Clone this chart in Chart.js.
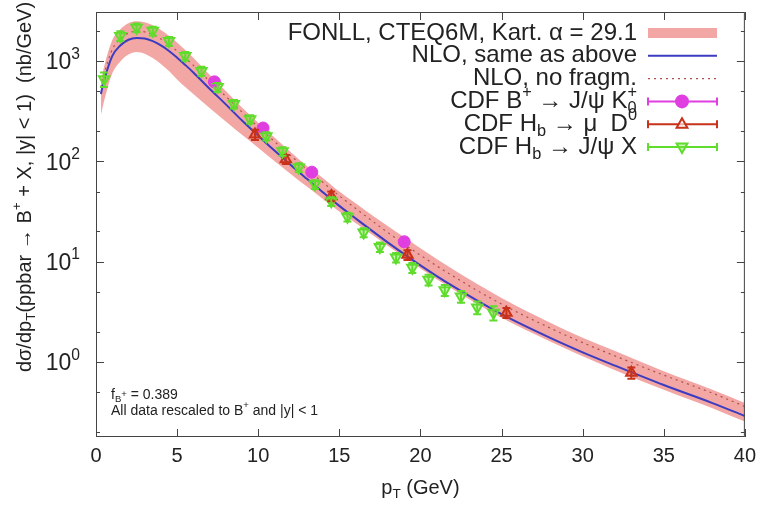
<!DOCTYPE html>
<html>
<head>
<meta charset="utf-8">
<script src="https://cdn.jsdelivr.net/npm/chart.js"></script>
<style>
  body { margin: 0; background: #fff; }
  canvas { display: block; }
</style>
</head>
<body>
<canvas id="chart_bplus" width="763" height="518"></canvas>
<script>
// theory curves, sampled in pT (GeV)
const pT = [0.3, 0.5, 1, 1.5, 2, 2.5, 3, 3.5, 4, 4.5, 5, 5.5, 6, 7, 8, 9, 10, 11, 12, 13, 14, 15, 16, 18, 20, 22, 25, 28, 30, 32, 35, 38, 40];
const fonllUp = [625, 880, 1610, 2070, 2380, 2490, 2440, 2270, 2040, 1790, 1530, 1290, 1080, 730, 503, 344, 243, 173, 124, 90, 68, 50, 38.3, 22.5, 13.6, 8.4, 4.35, 2.47, 1.75, 1.29, 0.81, 0.53, 0.39];
const fonllLo = [290, 400, 750, 990, 1160, 1230, 1180, 1070, 935, 795, 655, 550, 470, 340, 250, 184, 137, 101, 75, 56, 42, 31.7, 24.3, 14.3, 8.55, 5.3, 2.76, 1.6, 1.14, 0.83, 0.53, 0.347, 0.255];
const nlo = [470, 640, 1120, 1430, 1630, 1700, 1680, 1580, 1430, 1260, 1080, 915, 770, 530, 370, 255, 180, 128, 92, 67, 49, 36, 27, 15.5, 9.2, 5.7, 3.0, 1.74, 1.25, 0.92, 0.59, 0.39, 0.29];
const nloNoFrag = [550, 740, 1300, 1660, 1900, 1980, 1950, 1830, 1660, 1460, 1260, 1070, 905, 630, 445, 310, 221, 158, 114, 83.5, 61.5, 45.3, 34, 19.5, 11.6, 7.2, 3.78, 2.18, 1.56, 1.15, 0.74, 0.49, 0.36];

// CDF data
const bJpsiK_pT = [7.3, 10.3, 13.3, 19.0];
const bJpsiK = [620, 215, 78, 15.8];
const bJpsiK_err = [50, 17, 6, 1.5];

const hbMuD_pT = [9.8, 11.7, 14.5, 19.2, 25.3, 33.0];
const hbMuD = [185, 105, 45, 11.7, 3.1, 0.78];
const hbMuD_err = [22, 11, 5, 1.3, 0.35, 0.1];

const hbJpsiX_pT = [0.5, 1.5, 2.5, 3.5, 4.5, 5.5, 6.5, 7.5, 8.5, 9.5, 10.5, 11.5, 12.5, 13.5, 14.5, 15.5, 16.5, 17.5, 18.5, 19.5, 20.5, 21.5, 22.5, 23.5, 24.5];
const hbJpsiX = [660, 1780, 2150, 2000, 1580, 1120, 795, 550, 372, 263, 178, 126, 87, 59, 40, 28, 19.5, 14, 11, 8.7, 6.6, 5.2, 4.5, 3.5, 3.1];
const hbJpsiX_err = [110, 200, 220, 200, 160, 110, 80, 55, 36, 25, 17, 12, 8.5, 6, 4, 2.8, 2, 1.5, 1.2, 1.0, 0.8, 0.65, 0.6, 0.5, 0.5];

// axis ticks
const xTicks = [0, 5, 10, 15, 20, 25, 30, 35, 40];
const yMajor = [1, 10, 100, 1000];
const yExp = ['0', '1', '2', '3'];
const yMinor = [0.2, 0.5, 2, 5, 20, 50, 200, 500, 2000];

const FONT = '"Liberation Sans", Arial, Helvetica, sans-serif';
const INK = '#222';
const BAND = '#f3a7a5';
const BLUE = '#3b3cc0';
const DOTS = '#b0504a';
const MAG = '#e03ee0';
const RED = '#c8321a';
const GREEN = '#5fdc2c';

const pts = (xs, ys) => xs.map((x, i) => ({ x: x, y: ys[i] }));

// text with sub/superscripts: segs = [{t, k}] k: '', 'sup', 'sub', 'sub2' (sub under previous sup)
function richWidth(ctx, segs, size) {
  let w = 0, last = 0;
  segs.forEach(s => {
    const sz = s.k ? size * 0.68 : size;
    ctx.font = sz + 'px ' + FONT;
    const sw = ctx.measureText(s.t).width;
    if (s.k === 'sub2') { w += Math.max(0, sw - last); }
    else { w += sw; }
    last = sw;
  });
  return w;
}
function drawRich(ctx, segs, x, y, size, align) {
  ctx.save();
  ctx.textBaseline = 'middle';
  ctx.textAlign = 'left';
  ctx.fillStyle = INK;
  let w = richWidth(ctx, segs, size);
  let cx = align === 'right' ? x - w : align === 'center' ? x - w / 2 : x;
  let prevX = cx, last = 0;
  segs.forEach(s => {
    const sz = s.k ? size * 0.68 : size;
    ctx.font = sz + 'px ' + FONT;
    const sw = ctx.measureText(s.t).width;
    let dy = 0;
    if (s.k === 'sup') dy = -size * 0.38;
    if (s.k === 'sub' || s.k === 'sub2') dy = size * 0.3;
    if (s.k === 'subsup') dy = -size * 0.05;
    if (s.k === 'sub2') {
      ctx.fillText(s.t, prevX, y + dy);
      cx = prevX + Math.max(sw, last);
    } else {
      ctx.fillText(s.t, cx, y + dy);
      prevX = cx;
      cx += sw;
    }
    last = sw;
  });
  ctx.restore();
}

function marker(ctx, style, x, y, r, color, fill) {
  ctx.save();
  ctx.strokeStyle = color;
  ctx.fillStyle = fill;
  ctx.lineWidth = 2;
  ctx.beginPath();
  if (style === 'circle') {
    ctx.arc(x, y, r, 0, Math.PI * 2);
  } else {
    const s = style === 'up' ? 1 : -1;
    ctx.moveTo(x, y - s * r);
    ctx.lineTo(x + r * 0.9, y + s * r * 0.6);
    ctx.lineTo(x - r * 0.9, y + s * r * 0.6);
    ctx.closePath();
  }
  ctx.fill();
  ctx.stroke();
  ctx.restore();
}

const legendRows = [
  { segs: [{ t: 'FONLL, CTEQ6M, Kart. α = 29.1' }], kind: 'band' },
  { segs: [{ t: 'NLO, same as above' }], kind: 'line' },
  { segs: [{ t: 'NLO, no fragm.' }], kind: 'dots' },
  { segs: [{ t: 'CDF B' }, { t: '+', k: 'sup' }, { t: ' → J/ψ K' }, { t: '+', k: 'sup' }, { t: '0', k: 'sub2' }], kind: 'pt', color: MAG, style: 'circle', fill: MAG },
  { segs: [{ t: 'CDF H' }, { t: 'b', k: 'sub' }, { t: ' → μ  D' }, { t: '0', k: 'sup' }], kind: 'pt', color: RED, style: 'up', fill: 'rgba(255,255,255,0.6)' },
  { segs: [{ t: 'CDF H' }, { t: 'b', k: 'sub' }, { t: ' → J/ψ X' }], kind: 'pt', color: GREEN, style: 'down', fill: 'rgba(120,230,70,0.4)' }
];

const decor = {
  id: 'decor',
  afterDatasetsDraw(chart) {
    const ctx = chart.ctx;
    const ys = chart.scales.y;
    // error bars
    chart.data.datasets.forEach((ds, i) => {
      if (!ds.errs) return;
      const meta = chart.getDatasetMeta(i);
      ctx.save();
      ctx.strokeStyle = ds.borderColor;
      ctx.lineWidth = 2;
      meta.data.forEach((p, j) => {
        const v = ds.data[j].y, e = ds.errs[j];
        const y1 = ys.getPixelForValue(v + e), y2 = ys.getPixelForValue(Math.max(v - e, 0.01));
        ctx.beginPath();
        ctx.moveTo(p.x, y1); ctx.lineTo(p.x, y2);
        ctx.moveTo(p.x - 4, y1); ctx.lineTo(p.x + 4, y1);
        ctx.moveTo(p.x - 4, y2); ctx.lineTo(p.x + 4, y2);
        ctx.stroke();
      });
      ctx.restore();
    });
  },
  afterDraw(chart) {
    const ctx = chart.ctx;
    const xs = chart.scales.x, ys = chart.scales.y;
    const a = chart.chartArea;
    ctx.save();
    // frame
    ctx.strokeStyle = '#444';
    ctx.lineWidth = 1;
    ctx.strokeRect(a.left + 0.5, a.top + 0.5, a.right - a.left - 1, a.bottom - a.top - 1);
    // inward ticks
    ctx.beginPath();
    xTicks.forEach(v => {
      const x = Math.round(xs.getPixelForValue(v)) + 0.5;
      ctx.moveTo(x, a.bottom); ctx.lineTo(x, a.bottom - 8);
      ctx.moveTo(x, a.top); ctx.lineTo(x, a.top + 8);
    });
    yMajor.forEach(v => {
      const y = Math.round(ys.getPixelForValue(v)) + 0.5;
      ctx.moveTo(a.left, y); ctx.lineTo(a.left + 8, y);
      ctx.moveTo(a.right, y); ctx.lineTo(a.right - 8, y);
    });
    yMinor.forEach(v => {
      const y = Math.round(ys.getPixelForValue(v)) + 0.5;
      ctx.moveTo(a.left, y); ctx.lineTo(a.left + 4, y);
      ctx.moveTo(a.right, y); ctx.lineTo(a.right - 4, y);
    });
    ctx.stroke();
    ctx.restore();

    // y tick labels 10^n
    yMajor.forEach((v, i) => {
      const y = ys.getPixelForValue(v);
      drawRich(ctx, [{ t: '10' }, { t: yExp[i], k: 'sup' }], a.left - 16, y + 2, 23, 'right');
    });

    // axis titles
    drawRich(ctx, [{ t: 'p' }, { t: 'T', k: 'sub' }, { t: ' (GeV)' }], (a.left + a.right) / 2, 488, 20, 'center');
    ctx.save();
    ctx.translate(25, 187);
    ctx.rotate(-Math.PI / 2);
    drawRich(ctx, [{ t: 'dσ/dp' }, { t: 'T', k: 'sub' }, { t: '(ppbar → B' }, { t: '+', k: 'sup' }, { t: ' + X, |y| < 1)  (nb/GeV)' }], 0, 0, 20, 'center');
    ctx.restore();

    // annotation
    drawRich(ctx, [{ t: 'f' }, { t: 'B', k: 'sub' }, { t: '+', k: 'subsup' }, { t: ' = 0.389' }], 111, 395, 14, 'left');
    drawRich(ctx, [{ t: 'All data rescaled to B' }, { t: '+', k: 'sup' }, { t: ' and |y| < 1' }], 111, 411, 14, 'left');

    // legend
    const tx = 637, sx1 = 648, sx2 = 717, sxm = 682;
    legendRows.forEach((row, i) => {
      const y = 33 + i * 22.8;
      drawRich(ctx, row.segs, tx, y, 24, 'right');
      ctx.save();
      if (row.kind === 'band') {
        ctx.fillStyle = BAND;
        ctx.fillRect(sx1, y - 5, sx2 - sx1, 10);
      } else if (row.kind === 'line') {
        ctx.strokeStyle = BLUE; ctx.lineWidth = 2;
        ctx.beginPath(); ctx.moveTo(sx1, y); ctx.lineTo(sx2, y); ctx.stroke();
      } else if (row.kind === 'dots') {
        ctx.strokeStyle = DOTS; ctx.lineWidth = 1.2; ctx.setLineDash([2, 4]);
        ctx.beginPath(); ctx.moveTo(sx1, y); ctx.lineTo(sx2, y); ctx.stroke();
      } else {
        ctx.strokeStyle = row.color; ctx.lineWidth = 2;
        ctx.beginPath();
        ctx.moveTo(sx1, y); ctx.lineTo(sx2, y);
        ctx.moveTo(sx1, y - 4); ctx.lineTo(sx1, y + 4);
        ctx.moveTo(sx2, y - 4); ctx.lineTo(sx2, y + 4);
        ctx.stroke();
        marker(ctx, row.style, sxm, y, 6, row.color, row.fill);
      }
      ctx.restore();
    });
  }
};

const data_bplus = {
  datasets: [
    {
      label: 'FONLL upper',
      data: pts(pT, fonllUp),
      order: 20,
      borderWidth: 0,
      borderColor: BAND,
      backgroundColor: BAND,
      pointRadius: 0,
      fill: '+1',
      cubicInterpolationMode: 'monotone'
    },
    {
      label: 'FONLL lower',
      data: pts(pT, fonllLo),
      order: 19,
      borderWidth: 0,
      borderColor: BAND,
      pointRadius: 0,
      fill: false,
      cubicInterpolationMode: 'monotone'
    },
    {
      label: 'NLO, same as above',
      data: pts(pT, nlo),
      order: 11,
      borderColor: BLUE,
      borderWidth: 2,
      pointRadius: 0,
      fill: false,
      cubicInterpolationMode: 'monotone'
    },
    {
      label: 'NLO, no fragm.',
      data: pts(pT, nloNoFrag),
      order: 10,
      borderColor: DOTS,
      borderWidth: 1.2,
      borderDash: [2, 4],
      pointRadius: 0,
      fill: false,
      cubicInterpolationMode: 'monotone'
    },
    {
      label: 'CDF B+ -> J/psi K',
      data: pts(bJpsiK_pT, bJpsiK),
      errs: bJpsiK_err,
      order: 3,
      showLine: false,
      pointStyle: 'circle',
      pointRadius: 6,
      borderColor: MAG,
      backgroundColor: MAG,
      pointBorderWidth: 1
    },
    {
      label: 'CDF Hb -> mu D0',
      data: pts(hbMuD_pT, hbMuD),
      errs: hbMuD_err,
      order: 2,
      showLine: false,
      pointStyle: 'triangle',
      pointRadius: 6,
      borderColor: RED,
      backgroundColor: 'rgba(230,70,40,0.45)',
      pointBorderWidth: 2
    },
    {
      label: 'CDF Hb -> J/psi X',
      data: pts(hbJpsiX_pT, hbJpsiX),
      errs: hbJpsiX_err,
      order: 1,
      showLine: false,
      pointStyle: 'triangle',
      rotation: 180,
      pointRadius: 6,
      borderColor: GREEN,
      backgroundColor: 'rgba(120,230,70,0.4)',
      pointBorderWidth: 2
    }
  ]
};

const config_bplus = {
  type: 'line',
  data: data_bplus,
  options: {
    responsive: false,
    animation: false,
    layout: { padding: { left: 0, right: 18, top: 12, bottom: 0 } },
    plugins: {
      legend: { display: false },
      tooltip: { enabled: false }
    },
    scales: {
      x: {
        type: 'linear',
        min: 0,
        max: 40,
        grid: { display: false, drawTicks: false },
        border: { display: false },
        afterBuildTicks: scale => { scale.ticks = xTicks.map(v => ({ value: v })); },
        ticks: {
          padding: 7,
          color: INK,
          font: { family: FONT, size: 20 },
          maxRotation: 0
        },
        afterFit: scale => { scale.height = 81; }
      },
      y: {
        type: 'logarithmic',
        min: 0.179,
        max: 3080,
        grid: { display: false, drawTicks: false },
        border: { display: false },
        ticks: { display: false },
        afterFit: scale => { scale.width = 96; }
      }
    }
  },
  plugins: [decor]
};

const myChart_bplus = new Chart(document.getElementById('chart_bplus'), config_bplus);
</script>
</body>
</html>
